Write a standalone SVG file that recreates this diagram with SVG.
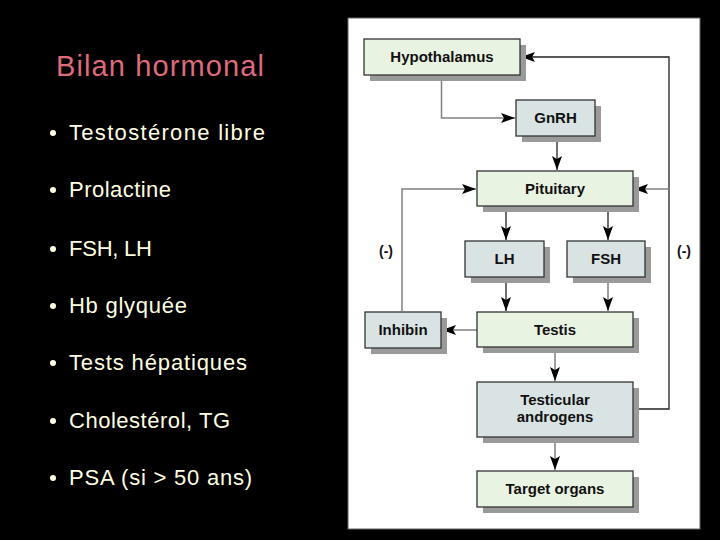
<svg xmlns="http://www.w3.org/2000/svg" width="720" height="540" viewBox="0 0 720 540">
<defs>
<style>
.bul{font-family:"Liberation Sans",Arial,sans-serif;font-size:22px;fill:#ffffe0}
.lbl{font-family:"Liberation Sans",Arial,sans-serif;font-size:15px;font-weight:bold;fill:#111;text-anchor:middle}
.g{fill:#e9f3e1;stroke:#333;stroke-width:1.3}
.b{fill:#d9e3e3;stroke:#333;stroke-width:1.3}
.sh{fill:#9a9a9a}
.cg{fill:none;stroke:#808080;stroke-width:1.5}
.ck{fill:none;stroke:#222;stroke-width:1.3}
</style>
<marker id="ah" viewBox="0 0 14 10" refX="14" refY="5" markerWidth="14" markerHeight="10" markerUnits="userSpaceOnUse" orient="auto">
<path d="M0,0 L14,5 L0,10 L3,5 Z" fill="#000"/>
</marker>
</defs>
<rect x="0" y="0" width="720" height="540" fill="#000"/>
<text x="56" y="76" font-family="'Liberation Sans',Arial,sans-serif" font-size="29" fill="#de6a7a" textLength="208">Bilan hormonal</text>
<g id="bullets">
<circle cx="53" cy="133" r="3" fill="#ffffe0"/><text class="bul" x="69" y="140" textLength="196">Testostérone  libre</text>
<circle cx="53" cy="190" r="3" fill="#ffffe0"/><text class="bul" x="69" y="197" textLength="102">Prolactine</text>
<circle cx="53" cy="249" r="3" fill="#ffffe0"/><text class="bul" x="69" y="256" textLength="83">FSH, LH</text>
<circle cx="53" cy="306" r="3" fill="#ffffe0"/><text class="bul" x="69" y="313" textLength="118">Hb glyquée</text>
<circle cx="53" cy="363" r="3" fill="#ffffe0"/><text class="bul" x="69" y="370" textLength="178">Tests hépatiques</text>
<circle cx="53" cy="421" r="3" fill="#ffffe0"/><text class="bul" x="69" y="428" textLength="161">Cholestérol, TG</text>
<circle cx="53" cy="478" r="3" fill="#ffffe0"/><text class="bul" x="69" y="485" textLength="183">PSA (si &gt; 50 ans)</text>
</g>
<rect x="348" y="18" width="352" height="511" fill="#fff" stroke="#666" stroke-width="1"/>
<g id="connectors">
<path class="cg" d="M441.5,75 V118 H515" marker-end="url(#ah)"/>
<path class="ck" d="M557,136 V170" marker-end="url(#ah)"/>
<path class="ck" d="M633,409 H669 V57 H521" marker-end="url(#ah)"/>
<path class="cg" d="M669,189 H634" marker-end="url(#ah)"/>
<path class="cg" d="M402,311 V189 H476" marker-end="url(#ah)"/>
<path class="ck" d="M506,206 V240" marker-end="url(#ah)"/>
<path class="ck" d="M608,206 V240" marker-end="url(#ah)"/>
<path class="ck" d="M506,277 V311" marker-end="url(#ah)"/>
<path class="cg" d="M608,277 V311" marker-end="url(#ah)"/>
<path class="cg" d="M477,330 H442" marker-end="url(#ah)"/>
<path class="cg" d="M555,348 V381" marker-end="url(#ah)"/>
<path class="cg" d="M555,437 V470" marker-end="url(#ah)"/>
</g>
<g id="hypothalamus"><rect class="sh" x="370" y="45" width="156" height="36"/><rect class="g" x="364" y="39" width="156" height="36"/><text class="lbl" x="442" y="62">Hypothalamus</text></g>
<g id="gnrh"><rect class="sh" x="522" y="106" width="79" height="36"/><rect class="b" x="516" y="100" width="79" height="36"/><text class="lbl" x="555.5" y="123">GnRH</text></g>
<g id="pituitary"><rect class="sh" x="483" y="177" width="156" height="35"/><rect class="g" x="477" y="171" width="156" height="35"/><text class="lbl" x="555" y="194">Pituitary</text></g>
<g id="lh"><rect class="sh" x="471" y="247" width="79" height="36"/><rect class="b" x="465" y="241" width="79" height="36"/><text class="lbl" x="504.5" y="264">LH</text></g>
<g id="fsh"><rect class="sh" x="573" y="247" width="78" height="36"/><rect class="b" x="567" y="241" width="78" height="36"/><text class="lbl" x="606" y="264">FSH</text></g>
<g id="inhibin"><rect class="sh" x="371" y="318" width="76" height="36"/><rect class="b" x="365" y="312" width="76" height="36"/><text class="lbl" x="403" y="335">Inhibin</text></g>
<g id="testis"><rect class="sh" x="483" y="318" width="156" height="35"/><rect class="g" x="477" y="312" width="156" height="35"/><text class="lbl" x="555" y="335">Testis</text></g>
<g id="androgens"><rect class="sh" x="483" y="388" width="156" height="55"/><rect class="b" x="477" y="382" width="156" height="55"/><text class="lbl" x="555" y="405">Testicular</text><text class="lbl" x="555" y="422">androgens</text></g>
<g id="target"><rect class="sh" x="483" y="477" width="156" height="36"/><rect class="g" x="477" y="471" width="156" height="36"/><text class="lbl" x="555" y="494">Target organs</text></g>
<text class="lbl" x="386" y="256" style="font-size:14px">(-)</text>
<text class="lbl" x="684" y="256" style="font-size:14px">(-)</text>
</svg>
